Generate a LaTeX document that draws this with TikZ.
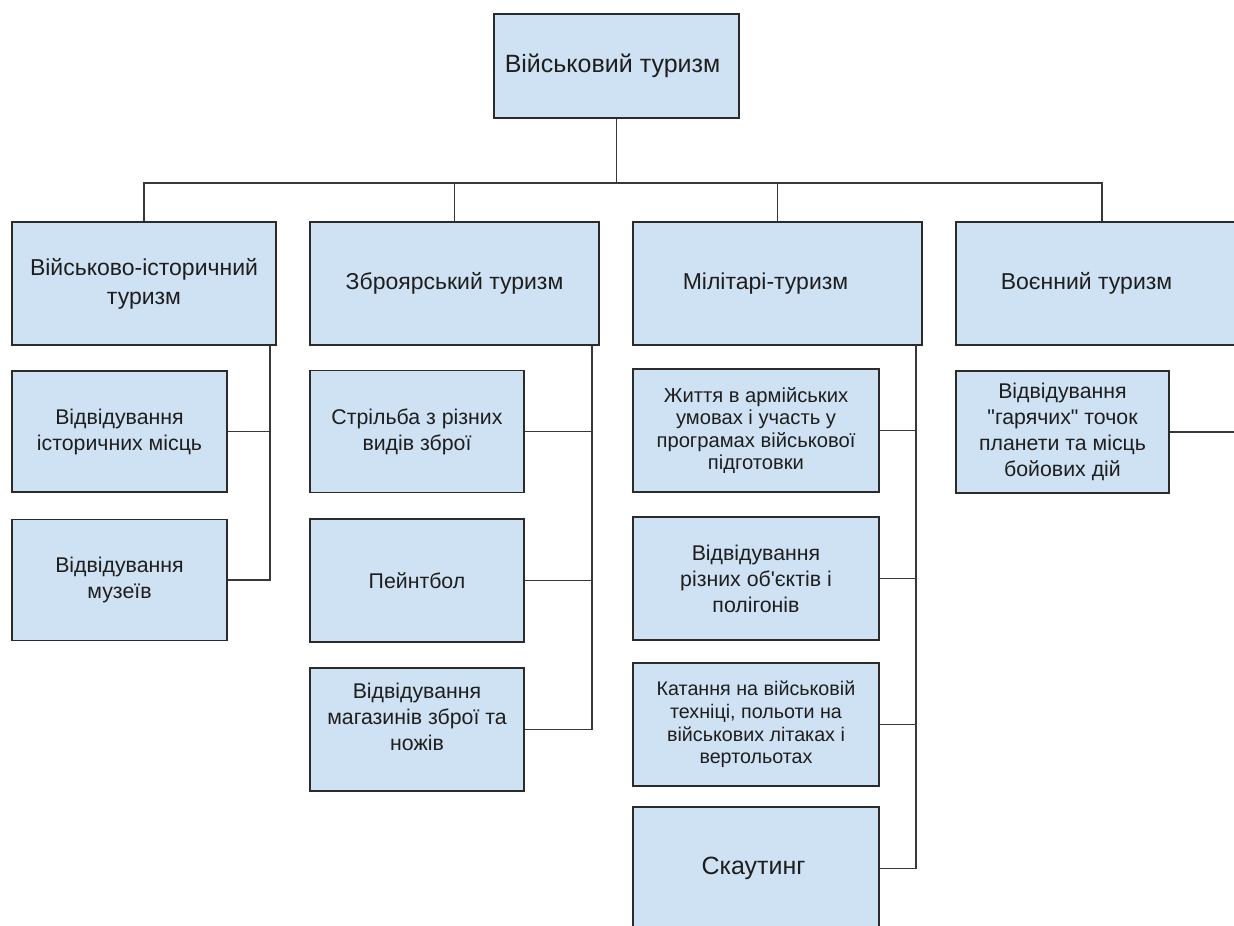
\documentclass[tikz,border=0pt]{standalone}
\usepackage{fontspec}
\setmainfont{Liberation Sans}[Ligatures=TeXOff]
\definecolor{boxfill}{HTML}{CFE2F3}
\definecolor{boxline}{HTML}{2B2B2B}
\definecolor{wire}{HTML}{383838}
\definecolor{ink}{HTML}{1E1E1E}
\tikzset{
  box/.style={draw=boxline, line width=1.5pt, fill=boxfill, rectangle, align=center, text=ink, inner sep=2pt},
  lvl/.style={box, font=\fontsize{23}{29}\selectfont},
  big/.style={box, font=\fontsize{25}{30}\selectfont},
  leaf/.style={box, font=\fontsize{21.3}{26}\selectfont},
  small/.style={box, font=\fontsize{20.2}{22.5}\selectfont},
  wirestyle/.style={draw=wire, line width=1.5pt}
}
\begin{document}
\begin{tikzpicture}[x=1pt,y=-1pt]
\useasboundingbox (0,0) rectangle (1234,926);
\clip (0,0) rectangle (1234,926);
\fill[white] (0,0) rectangle (1234,926);

% top
\node[big, minimum width=245pt, minimum height=104pt] (top) at (616.5,66) {Військовий туризм\hspace*{8pt}};

% level 1
\node[lvl, minimum width=264pt, minimum height=123pt] (A) at (144,283.5) {Військово-історичний\\туризм};
\node[lvl, minimum width=289pt, minimum height=123pt] (B) at (454.5,283.5) {Зброярський туризм};
\node[lvl, minimum width=289pt, minimum height=123pt] (C) at (777.5,283.5) {Мілітарі-туризм\hspace*{24pt}};
\node[lvl, minimum width=292pt, minimum height=123pt] (D) at (1102,283.5) {Воєнний туризм\hspace*{31pt}};

% column A
\node[leaf, minimum width=215pt, minimum height=121pt] (A1) at (119.5,431.5) {Відвідування\\історичних місць};
\node[leaf, minimum width=215pt, minimum height=121pt] (A2) at (119.5,580) {Відвідування\\музеїв};

% column B
\node[leaf, minimum width=214pt, minimum height=122pt] (B1) at (417,431.5) {Стрільба з різних\\видів зброї};
\node[leaf, minimum width=214pt, minimum height=123pt] (B2) at (417,580.5) {Пейнтбол};
\node[leaf, minimum width=214pt, minimum height=123pt] (B3) at (417,729.5) {Відвідування\\магазинів зброї та\\ножів\\\mbox{}};

% column C
\node[small, minimum width=246pt, minimum height=123pt] (C1) at (756,430.5) {Життя в армійських\\умовах і участь у\\програмах військової\\підготовки};
\node[leaf, minimum width=246pt, minimum height=123pt] (C2) at (756,578.5) {Відвідування\\різних об'єктів і\\полігонів};
\node[small, font=\fontsize{19.7}{22.8}\selectfont, minimum width=246pt, minimum height=123pt] (C3) at (756,724.5) {Катання на військовій\\техніці, польоти на\\військових літаках і\\вертольотах};
\node[big, minimum width=246pt, minimum height=123pt] (C4) at (756,868.5) {Скаутинг\hspace*{5pt}};

% column D
\node[leaf, minimum width=213pt, minimum height=122pt] (D1) at (1062.5,432) {Відвідування\\"гарячих" точок\\планети та місць\\бойових дій};

% top-level connectors
\coordinate (hub) at (616.5,183);
\draw[wirestyle] (top.south) -- (hub);
\draw[wirestyle] (A.north) |- (hub);
\draw[wirestyle] (D.north) |- (hub);
\draw[wirestyle] (B.north) -- (B.north |- hub);
\draw[wirestyle] (C.north) -- (C.north |- hub);

% bus coordinates
\coordinate (busA) at (270,345);
\coordinate (busB) at (592,345);
\coordinate (busC) at (916,345);
\coordinate (busD) at (1242,345);

\draw[wirestyle] (busA) |- (A2.east);
\draw[wirestyle] (A1.east) -- (A1.east -| busA);

\draw[wirestyle] (busB) |- (B3.east);
\draw[wirestyle] (B1.east) -- (B1.east -| busB);
\draw[wirestyle] (B2.east) -- (B2.east -| busB);

\draw[wirestyle] (busC) |- (C4.east);
\draw[wirestyle] (C1.east) -- (C1.east -| busC);
\draw[wirestyle] (C2.east) -- (C2.east -| busC);
\draw[wirestyle] (C3.east) -- (C3.east -| busC);

\draw[wirestyle] (busD) |- (D1.east);
\end{tikzpicture}
\end{document}
